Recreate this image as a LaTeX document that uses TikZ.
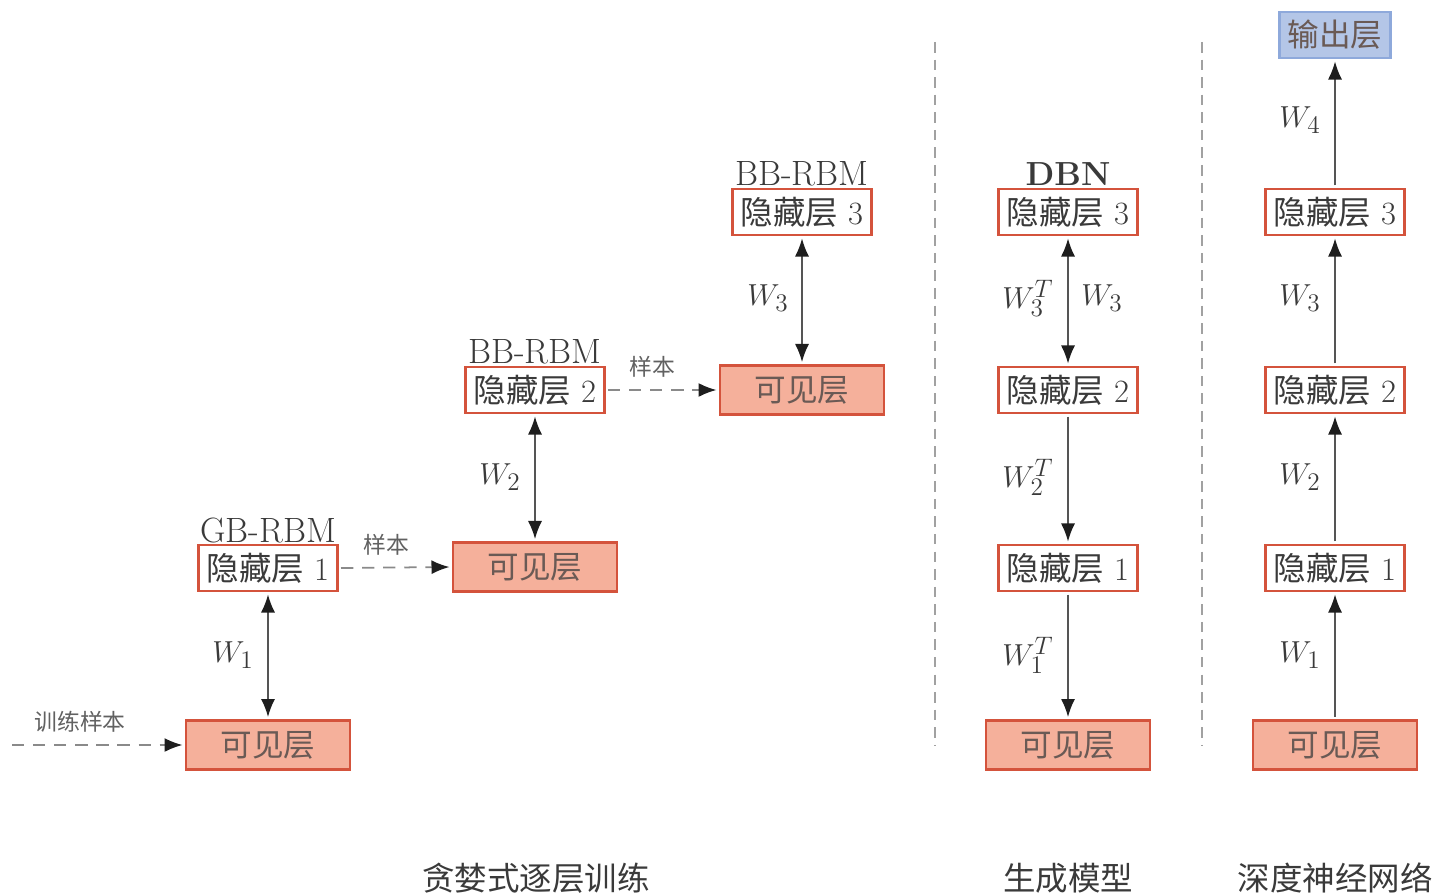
\documentclass[tikz,border=0pt]{standalone}
\usepackage{fontspec}
\usetikzlibrary{arrows.meta}
\newfontfamily\cjk{Noto Sans CJK SC}
\definecolor{redb}{HTML}{D4533C}
\definecolor{salmon}{HTML}{F5B09B}
\definecolor{blueb}{HTML}{8EA9DB}
\definecolor{bluef}{HTML}{B4C6E7}
\definecolor{txt}{HTML}{3A3A3A}
\definecolor{vtxt}{HTML}{6A5A55}
\definecolor{lin}{HTML}{555555}
\definecolor{dsh}{HTML}{8A8A8A}
\definecolor{head}{HTML}{1E1E1E}
\tikzset{
  hid/.style={draw=redb,line width=1.2pt,fill=white,minimum width=2.78cm,minimum height=0.92cm,inner sep=0pt,text=txt,font=\fontsize{18.5}{20}\selectfont,outer sep=2pt},
  vis/.style={draw=redb,line width=1.2pt,fill=salmon,minimum width=3.28cm,minimum height=0.98cm,inner sep=0pt,text=vtxt,font=\fontsize{18}{20}\selectfont\cjk,outer sep=2pt},
  outb/.style={draw=blueb,line width=1.2pt,fill=bluef,minimum width=2.22cm,minimum height=0.92cm,inner sep=0pt,text=vtxt,font=\fontsize{18}{20}\selectfont\cjk,outer sep=2pt},
  ttl/.style={text=txt,font=\fontsize{20}{22}\selectfont,inner sep=0pt},
  wlab/.style={text=txt,font=\fontsize{19}{21}\selectfont,inner sep=0pt},
  small/.style={text=txt!80,font=\fontsize{13}{15}\selectfont\cjk,inner sep=0pt},
  bot/.style={text=txt,font=\fontsize{18.5}{20}\selectfont\cjk,inner sep=0pt},
  conn/.style={draw=lin,line width=0.8pt},
  tip/.style={-{Latex[length=0.36cm,width=0.28cm,color=head]}},
  dtip/.style={{Latex[length=0.36cm,width=0.28cm,color=head]}-{Latex[length=0.36cm,width=0.28cm,color=head]}},
  dline/.style={draw=dsh,line width=1pt,dash pattern=on 7pt off 5pt},
  sep/.style={draw=dsh!80,line width=0.8pt,dash pattern=on 6pt off 4pt},
}
\begin{document}
\begin{tikzpicture}[x=0.02cm,y=-0.02cm]
\useasboundingbox (0,0) rectangle (1436,895);
% greedy layer-wise
\node[vis] (v1) at (268,745) {可见层};
\node[hid] (h1) at (268,568) {{\cjk 隐藏层} 1};
\node[ttl] (t1) at (268,530) {GB-RBM};
\node[vis] (v2) at (535,567) {可见层};
\node[hid] (h2) at (535,390) {{\cjk 隐藏层} 2};
\node[ttl] (t2) at (535,352) {BB-RBM};
\node[vis] (v3) at (802,390) {可见层};
\node[hid] (h3) at (802,212) {{\cjk 隐藏层} 3};
\node[ttl] (t3) at (802,174) {BB-RBM};
\coordinate (in) at (12,745);
\draw[dline,tip] (in) -- (v1.west);
\node[small] (l0) at (80,722) {训练样本};
\draw[dline,tip] (h1.east) -- (v2.west);
\node[small] (l1) at (386,545) {样本};
\draw[dline,tip] (h2.east) -- (v3.west);
\node[small] (l2) at (652,367) {样本};
\draw[conn,dtip] (h1.south) -- (v1.north);
\draw[conn,dtip] (h2.south) -- (v2.north);
\draw[conn,dtip] (h3.south) -- (v3.north);
\node[wlab] (w1) at (233,655) {$W_1$};
\node[wlab] (w2) at (500,477) {$W_2$};
\node[wlab] (w3) at (768,298) {$W_3$};
% separators
\coordinate (s1a) at (935,42); \coordinate (s1b) at (935,745);
\coordinate (s2a) at (1202,42); \coordinate (s2b) at (1202,745);
\draw[sep] (s1a) -- (s1b);
\draw[sep] (s2a) -- (s2b);
% DBN
\node[vis] (dv) at (1068,745) {可见层};
\node[hid] (dh1) at (1068,568) {{\cjk 隐藏层} 1};
\node[hid] (dh2) at (1068,390) {{\cjk 隐藏层} 2};
\node[hid] (dh3) at (1068,212) {{\cjk 隐藏层} 3};
\node[ttl,font=\fontsize{19}{21}\selectfont\bfseries] (dt) at (1068,174) {DBN};
\draw[conn,dtip] (dh3.south) -- (dh2.north);
\draw[conn,tip] (dh2.south) -- (dh1.north);
\draw[conn,tip] (dh1.south) -- (dv.north);
\node[wlab] (dw3t) at (1028,298) {$W_3^T$};
\node[wlab] (dw3) at (1102,298) {$W_3$};
\node[wlab] (dw2t) at (1028,477) {$W_2^T$};
\node[wlab] (dw1t) at (1028,655) {$W_1^T$};
% DNN
\node[vis] (nv) at (1335,745) {可见层};
\node[hid] (nh1) at (1335,568) {{\cjk 隐藏层} 1};
\node[hid] (nh2) at (1335,390) {{\cjk 隐藏层} 2};
\node[hid] (nh3) at (1335,212) {{\cjk 隐藏层} 3};
\node[outb] (no) at (1335,35) {输出层};
\draw[conn,tip] (nv.north) -- (nh1.south);
\draw[conn,tip] (nh1.north) -- (nh2.south);
\draw[conn,tip] (nh2.north) -- (nh3.south);
\draw[conn,tip] (nh3.north) -- (no.south);
\node[wlab] (nw1) at (1300,655) {$W_1$};
\node[wlab] (nw2) at (1300,477) {$W_2$};
\node[wlab] (nw3) at (1300,298) {$W_3$};
\node[wlab] (nw4) at (1300,120) {$W_4$};
% bottom labels
\node[bot] (b1) at (536,878) {贪婪式逐层训练};
\node[bot] (b2) at (1068,878) {生成模型};
\node[bot] (b3) at (1335,878) {深度神经网络};
\end{tikzpicture}
\end{document}
